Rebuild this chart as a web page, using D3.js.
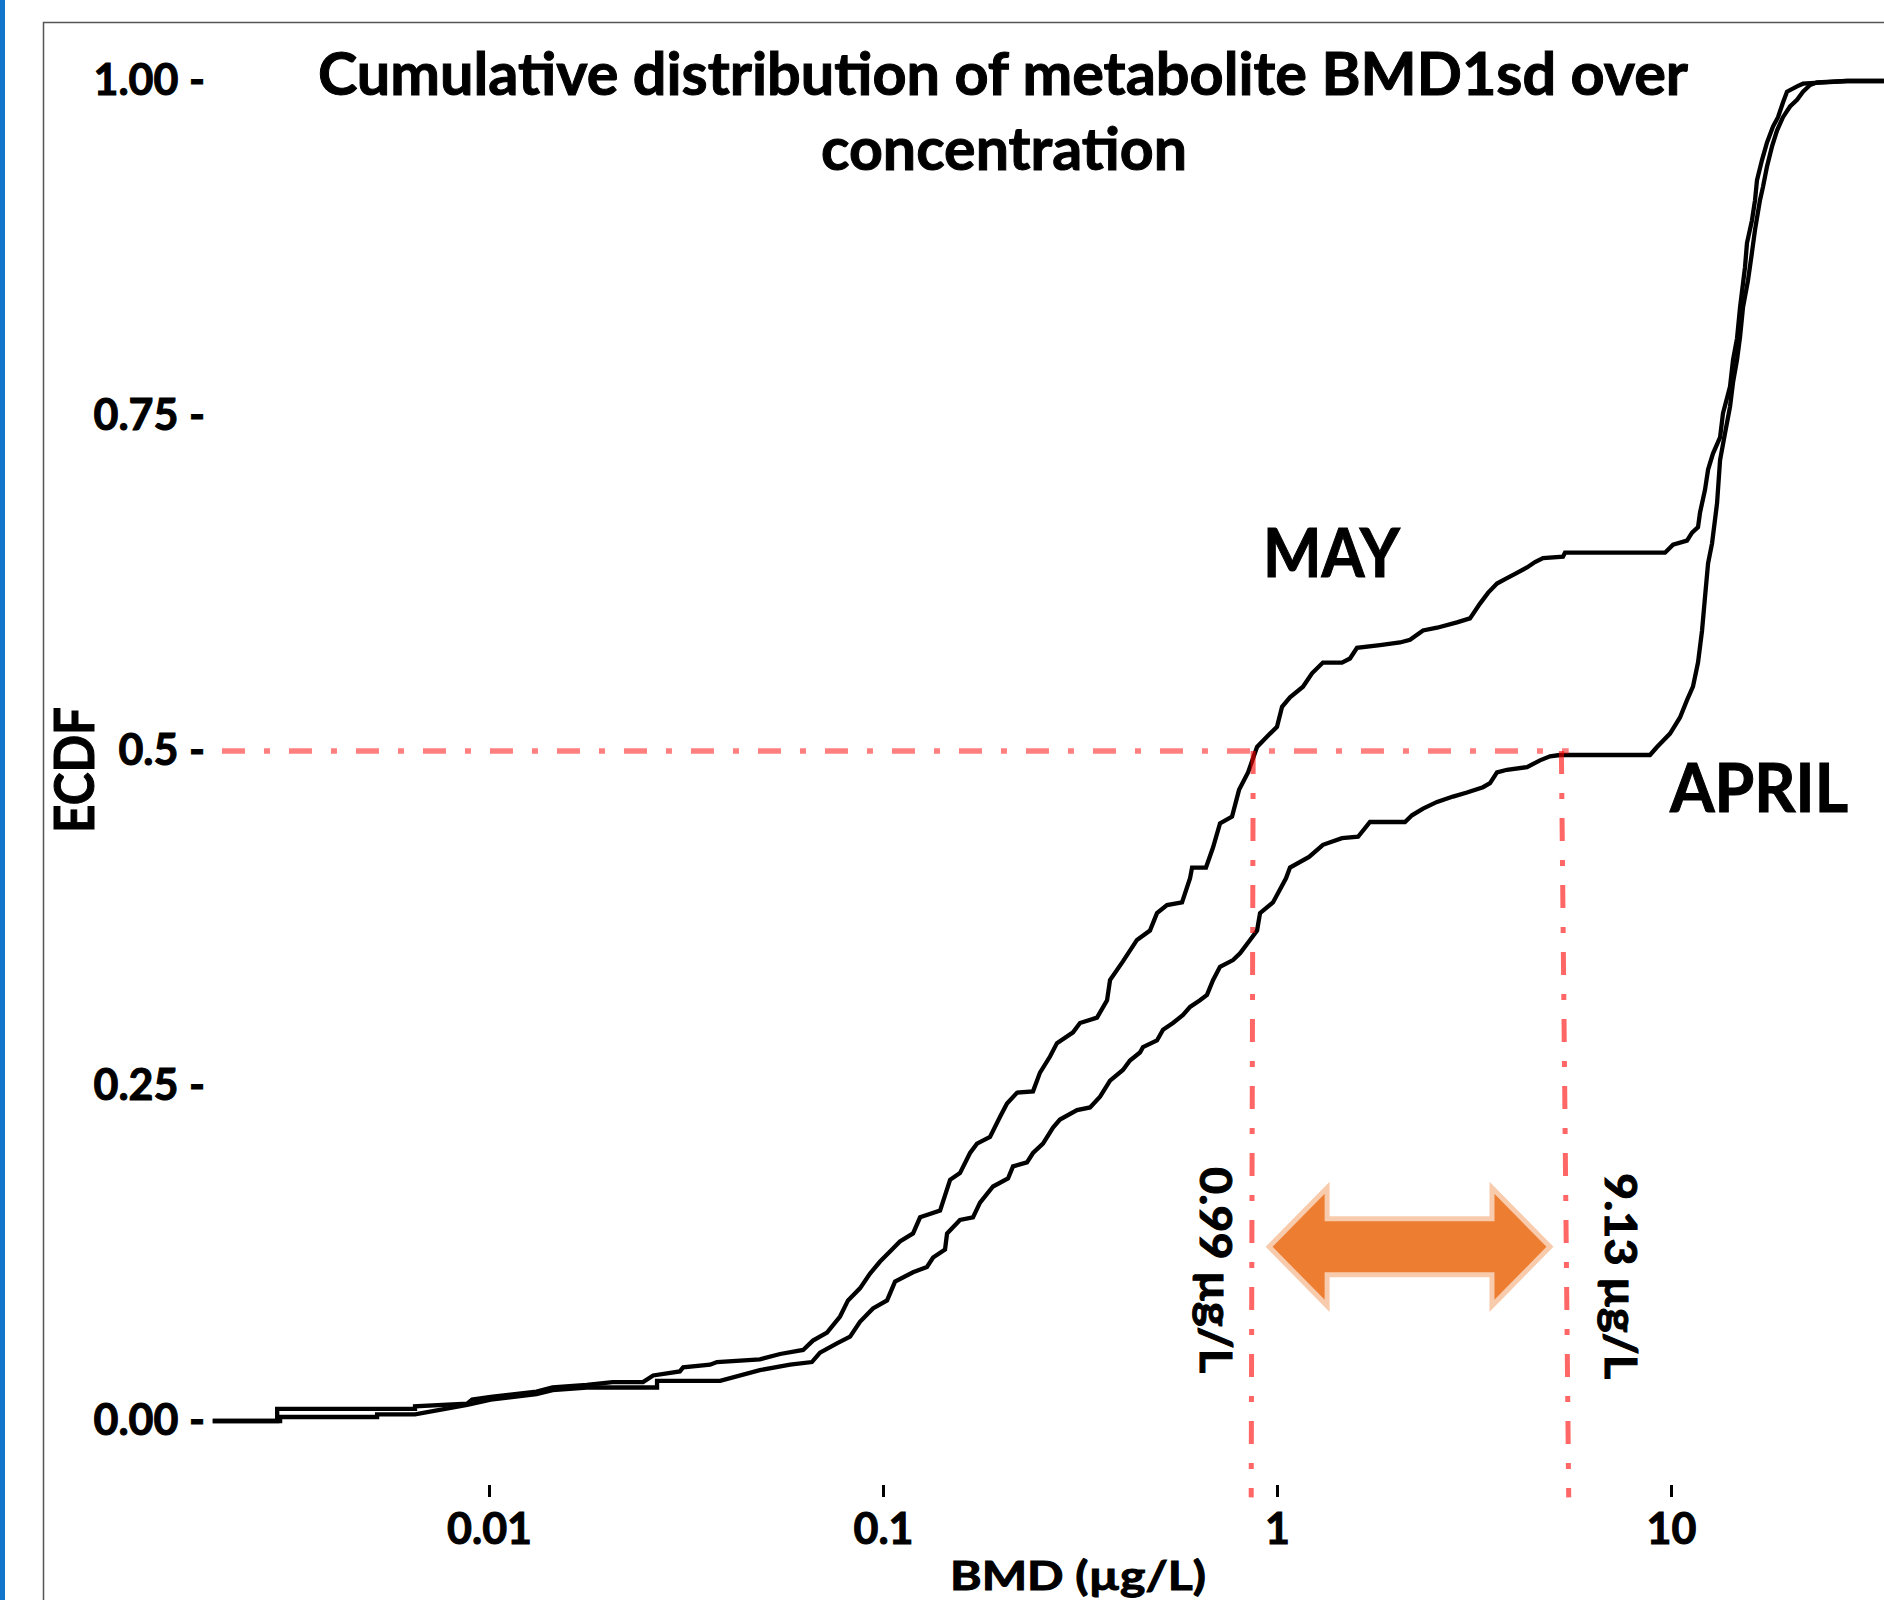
<!DOCTYPE html>
<html>
<head>
<meta charset="utf-8">
<script src="https://cdn.jsdelivr.net/npm/d3@7"></script>
<style>
  body { margin: 0; background: #fff; }
  svg text { font-family: Lato, "Open Sans", sans-serif; font-weight: 700; fill: #000; stroke: #000; stroke-width: 1px; }
</style>
</head>
<body>
<div id="chart"></div>
<script>

// ECDF of BMD1sd (concentration in ug/L, cumulative share)
const mayConc = [0.00199, 0.0029, 0.0029, 0.00649, 0.00649, 0.0088, 0.00906, 0.0101, 0.0132, 0.0145,
  0.0177, 0.0206, 0.0246, 0.0261, 0.0305, 0.0311, 0.0364, 0.0379, 0.0487, 0.0548,
  0.0627, 0.0664, 0.0721, 0.0778, 0.0815, 0.0874, 0.0927, 0.0983, 0.1054, 0.1104,
  0.1192, 0.1242, 0.1396, 0.148, 0.1568, 0.1663, 0.1732, 0.1869, 0.1982, 0.2064,
  0.2188, 0.2403, 0.2503, 0.2654, 0.2764, 0.3036, 0.3162, 0.3493, 0.3704, 0.3769,
  0.4064, 0.4411, 0.476, 0.4959, 0.5258, 0.5741, 0.6016, 0.6087, 0.6603, 0.688,
  0.7167, 0.7689, 0.8011, 0.8443, 0.8899, 0.9602, 1.0, 1.03, 1.079, 1.164,
  1.227, 1.308, 1.462, 1.532, 1.596, 1.826, 2.052, 2.176, 2.348, 2.548,
  2.863, 3.089, 3.275, 3.432, 3.617, 3.835, 4.065, 4.311, 4.517, 4.733,
  5.318, 5.383, 9.656, 10.12, 10.98, 11.31, 11.71, 11.85, 12.2, 12.42,
  12.78, 13.32, 13.55, 14.12, 14.37, 14.71, 14.97, 15.41, 15.59, 16.05,
  16.34, 16.53, 17.02, 17.52, 18.15, 18.69, 19.24, 19.7, 20.89, 21.63,
  27.97, 34.7]
const mayEcdf = [0, 0, 0.009, 0.009, 0.011, 0.013, 0.016, 0.018, 0.022, 0.025,
  0.027, 0.029, 0.029, 0.034, 0.037, 0.040, 0.042, 0.044, 0.046, 0.050,
  0.053, 0.060, 0.066, 0.078, 0.090, 0.099, 0.110, 0.119, 0.128, 0.134,
  0.140, 0.152, 0.157, 0.180, 0.185, 0.200, 0.207, 0.212, 0.227, 0.237,
  0.245, 0.246, 0.260, 0.272, 0.282, 0.290, 0.297, 0.301, 0.314, 0.329,
  0.343, 0.359, 0.366, 0.379, 0.385, 0.387, 0.405, 0.413, 0.413, 0.428,
  0.446, 0.451, 0.471, 0.484, 0.503, 0.513, 0.518, 0.533, 0.540, 0.548,
  0.558, 0.566, 0.566, 0.569, 0.577, 0.579, 0.581, 0.583, 0.590, 0.592,
  0.596, 0.599, 0.610, 0.618, 0.625, 0.629, 0.633, 0.637, 0.641, 0.644,
  0.645, 0.648, 0.648, 0.654, 0.657, 0.663, 0.667, 0.678, 0.695, 0.710,
  0.722, 0.734, 0.752, 0.772, 0.792, 0.808, 0.831, 0.861, 0.879, 0.896,
  0.911, 0.926, 0.941, 0.954, 0.966, 0.973, 0.984, 0.992, 0.996, 0.998,
  1.0, 1.0]

const aprilConc = [0.00199, 0.00295, 0.00295, 0.0052, 0.0052, 0.00649, 0.0088, 0.0101, 0.0132, 0.0145,
  0.0177, 0.0267, 0.0267, 0.0386, 0.0487, 0.0581, 0.066, 0.0692, 0.0764, 0.0825,
  0.0874, 0.0943, 0.1024, 0.1073, 0.1192, 0.1293, 0.134, 0.1437, 0.1454, 0.1568,
  0.1692, 0.1763, 0.1902, 0.2076, 0.2138, 0.232, 0.2403, 0.2547, 0.2701, 0.2813,
  0.3108, 0.3353, 0.3555, 0.3769, 0.4064, 0.4234, 0.4489, 0.4569, 0.4959, 0.5137,
  0.5445, 0.5774, 0.6016, 0.6376, 0.6642, 0.688, 0.7167, 0.7734, 0.8058, 0.8543,
  0.8899, 0.9056, 0.9768, 1.054, 1.079, 1.206, 1.308, 1.462, 1.606, 1.722,
  2.113, 2.201, 2.348, 2.548, 2.797, 3.035, 3.333, 3.473, 3.617, 3.835,
  4.311, 4.651, 4.931, 5.226, 8.845, 9.215, 9.943, 10.54, 10.98, 11.37,
  11.71, 11.99, 12.2, 12.42, 12.71, 13.09, 13.32, 13.71, 14.12, 14.37,
  14.71, 14.97, 15.23, 15.68, 16.05, 16.34, 16.82, 17.12, 17.52, 18.04,
  18.58, 19.24, 20.05, 20.89, 21.63, 22.54, 23.48, 27.97, 34.7]
const aprilEcdf = [0, 0, 0.003, 0.003, 0.005, 0.005, 0.012, 0.016, 0.020, 0.023,
  0.025, 0.025, 0.030, 0.030, 0.038, 0.042, 0.044, 0.051, 0.058, 0.063,
  0.074, 0.084, 0.090, 0.104, 0.111, 0.115, 0.122, 0.128, 0.140, 0.150,
  0.152, 0.163, 0.175, 0.181, 0.190, 0.193, 0.200, 0.207, 0.219, 0.225,
  0.232, 0.234, 0.242, 0.254, 0.262, 0.269, 0.275, 0.279, 0.284, 0.292,
  0.297, 0.303, 0.309, 0.314, 0.318, 0.329, 0.339, 0.344, 0.349, 0.359,
  0.366, 0.379, 0.387, 0.405, 0.413, 0.421, 0.430, 0.435, 0.436, 0.447,
  0.447, 0.452, 0.457, 0.462, 0.466, 0.469, 0.473, 0.476, 0.484, 0.486,
  0.488, 0.493, 0.496, 0.497, 0.497, 0.503, 0.513, 0.525, 0.538, 0.548,
  0.566, 0.590, 0.615, 0.640, 0.655, 0.685, 0.717, 0.737, 0.757, 0.775,
  0.792, 0.809, 0.831, 0.851, 0.872, 0.889, 0.911, 0.921, 0.936, 0.951,
  0.963, 0.973, 0.981, 0.986, 0.992, 0.997, 0.999, 1.0, 1.0]

const xTicks = [0.01, 0.1, 1, 10]
const xTickLabels = ["0.01", "0.1", "1", "10"]
const yTicks = [0, 0.25, 0.5, 0.75, 1]
const yTickLabels = ["0.00", "0.25", "0.5", "0.75", "1.00"]

// median guides: where each curve crosses 0.5 (top) and where the guide ends (bottom)
const guideLevel = 0.5
const guideStart = 0.0021
const guideTop = [0.87, 5.27]
const guideBottom = [0.86, 5.5]
const guideFloor = -0.057
const medianLabels = ["0.99 µg/L", "9.13 µg/L"]

// double arrow between the medians
const arrowSpan = [0.955, 4.93]
const arrowAt = 0.13


const width = 1884, height = 1600

const svg = d3.select("#chart")
  .append("svg")
  .attr("width", width)
  .attr("height", height)

const x = d3.scaleLog().domain([0.01, 10]).range([489, 1671])
const y = d3.scaleLinear().domain([0, 1]).range([1421, 81])

// slide frame
svg.append("rect").attr("x", 0).attr("y", 0).attr("width", 5).attr("height", height).attr("fill", "#1275cc")
svg.append("path")
  .attr("d", "M43.5," + height + "V22.5H" + width)
  .attr("fill", "none").attr("stroke", "#555").attr("stroke-width", 1.5)

// title
svg.append("text").attr("x", 1003).attr("y", 95).attr("text-anchor", "middle")
  .attr("font-size", 59).attr("textLength", 1370).attr("lengthAdjust", "spacingAndGlyphs")
  .text("Cumulative distribution of metabolite BMD1sd over")
svg.append("text").attr("x", 1004).attr("y", 170).attr("text-anchor", "middle")
  .attr("font-size", 59).attr("textLength", 366).attr("lengthAdjust", "spacingAndGlyphs")
  .text("concentration")

// Y axis
const yAxis = svg.append("g").attr("class", "axisy")
  .attr("transform", "translate(205,0)")
  .call(d3.axisLeft(y).tickValues(yTicks).tickSize(0).tickPadding(0)
    .tickFormat((d, i) => yTickLabels[i] + " -"))
yAxis.select(".domain").remove()
yAxis.selectAll("text").attr("font-size", 43).style("font-family", "Lato, sans-serif")

// X axis
const xAxis = svg.append("g").attr("class", "axisx")
  .attr("transform", "translate(0,1485)")
  .call(d3.axisBottom(x).tickValues(xTicks).tickSize(12).tickPadding(16)
    .tickFormat((d, i) => xTickLabels[i]))
xAxis.select(".domain").remove()
xAxis.selectAll("line").attr("stroke", "#000").attr("stroke-width", 3)
xAxis.selectAll("text").attr("font-size", 43).style("font-family", "Lato, sans-serif")

// axis titles
svg.append("text").attr("x", 950).attr("y", 1590)
  .attr("font-size", 41).attr("textLength", 256).attr("lengthAdjust", "spacingAndGlyphs")
  .text("BMD (µg/L)")
svg.append("text").attr("transform", "translate(94,770) rotate(-90)").attr("text-anchor", "middle")
  .attr("font-size", 56).attr("textLength", 126).attr("lengthAdjust", "spacingAndGlyphs")
  .text("ECDF")

// ECDF curves
const line = d3.line().x(d => x(d[0])).y(d => y(d[1]))
const series = [
  {name: "MAY", pts: d3.zip(mayConc, mayEcdf)},
  {name: "APRIL", pts: d3.zip(aprilConc, aprilEcdf)}
]
svg.append("g").selectAll("path")
  .data(series)
  .enter()
  .append("path")
  .attr("d", d => line(d.pts))
  .attr("fill", "none")
  .attr("stroke", "#000")
  .attr("stroke-width", 4.3)
  .attr("stroke-linejoin", "miter")

// dash-dot median guides
const guides = svg.append("g").attr("stroke", "#ff0000").attr("stroke-width", 5.5)
  .attr("stroke-dasharray", "23 19 6 19").attr("fill", "none")
guides.append("line")
  .attr("x1", x(guideStart)).attr("x2", x(5.5))
  .attr("y1", y(guideLevel)).attr("y2", y(guideLevel))
  .attr("stroke-opacity", 0.5)
guides.selectAll(".vguide")
  .data(guideTop)
  .enter()
  .append("line").attr("class", "vguide")
  .attr("x1", d => x(d)).attr("y1", y(guideLevel))
  .attr("x2", (d, i) => x(guideBottom[i])).attr("y2", y(guideFloor))
  .attr("stroke-width", 5)
  .attr("stroke-opacity", 0.6)

// rotated median labels
const labelPos = [[1200, 1270], [1605, 1276]]
svg.append("g").selectAll("text")
  .data(medianLabels)
  .enter()
  .append("text")
  .attr("transform", (d, i) => "translate(" + labelPos[i][0] + "," + labelPos[i][1] + ") rotate(90)")
  .attr("text-anchor", "middle")
  .attr("font-size", 44)
  .attr("textLength", 206).attr("lengthAdjust", "spacingAndGlyphs")
  .text(d => d)

// orange double arrow
const ax0 = x(arrowSpan[0]), ax1 = x(arrowSpan[1]), ay = y(arrowAt)
const headLen = 58, headHalf = 59, shaftHalf = 28
const arrow = d3.path()
arrow.moveTo(ax0, ay)
arrow.lineTo(ax0 + headLen, ay - headHalf)
arrow.lineTo(ax0 + headLen, ay - shaftHalf)
arrow.lineTo(ax1 - headLen, ay - shaftHalf)
arrow.lineTo(ax1 - headLen, ay - headHalf)
arrow.lineTo(ax1, ay)
arrow.lineTo(ax1 - headLen, ay + headHalf)
arrow.lineTo(ax1 - headLen, ay + shaftHalf)
arrow.lineTo(ax0 + headLen, ay + shaftHalf)
arrow.lineTo(ax0 + headLen, ay + headHalf)
arrow.closePath()
svg.append("path").attr("d", arrow.toString())
  .attr("fill", "#ed7d31").attr("stroke", "#f8cbad").attr("stroke-width", 5)

// series labels
svg.append("text").attr("x", 1263).attr("y", 577)
  .attr("font-size", 66).attr("textLength", 137).attr("lengthAdjust", "spacingAndGlyphs")
  .text("MAY")
svg.append("text").attr("x", 1670).attr("y", 812)
  .attr("font-size", 66).attr("textLength", 178).attr("lengthAdjust", "spacingAndGlyphs")
  .text("APRIL")

</script>
</body>
</html>
